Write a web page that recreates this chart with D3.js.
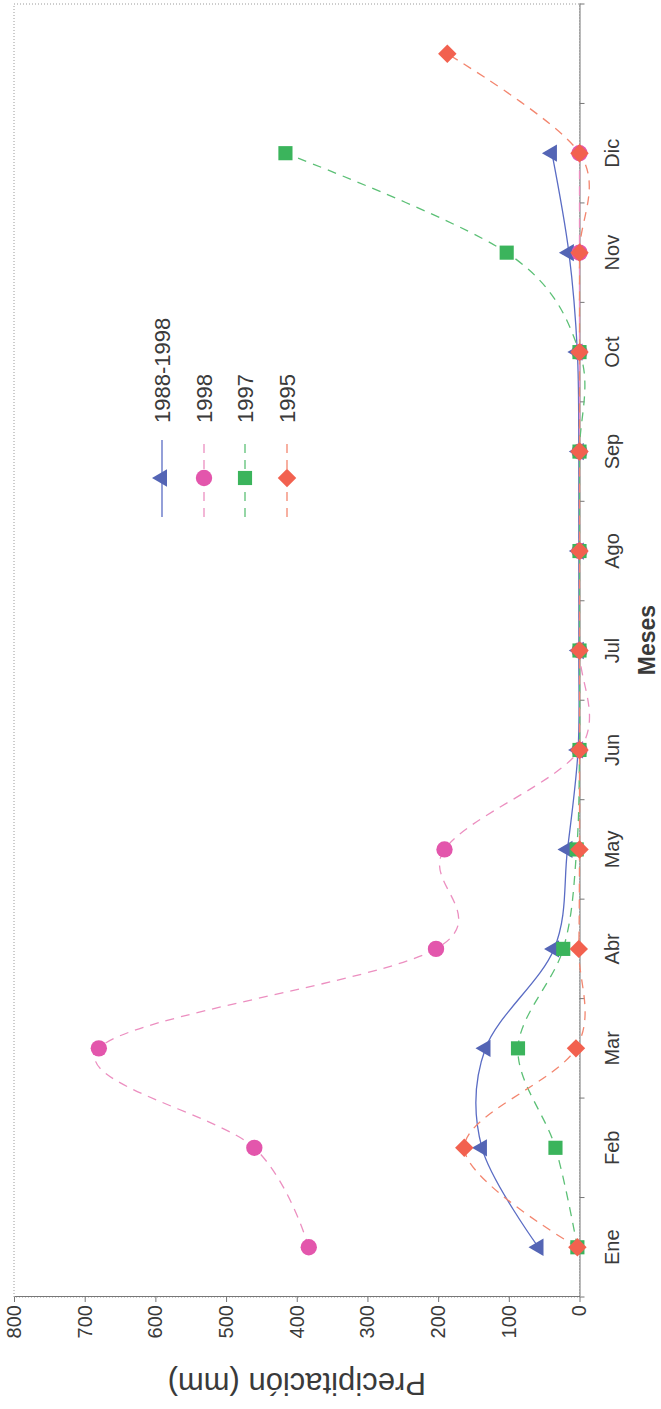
<!DOCTYPE html>
<html><head><meta charset="utf-8">
<script src="https://cdn.jsdelivr.net/npm/d3@7"></script>
<style>
body{margin:0;background:#fff}
svg{display:block}
text{font-family:"Liberation Sans",Arial,sans-serif;fill:#3a3a3a}
</style>
</head><body>
<svg id="c" width="661" height="1409"></svg>
<script>
// ---- data ----
const months = ["Ene","Feb","Mar","Abr","May","Jun","Jul","Ago","Sep","Oct","Nov","Dic",""];
const yTicks = [0,100,200,300,400,500,600,700,800];
const seriesNames = ["1988-1998","1998","1997","1995"];
const s8898 = [58,138,133,36,17,2,1,1,1,3,15,39];
const s1998 = [383,460,680,203,191,0,0,0,0,0,0,0];
const s1997 = [3,34,87,23,4,0,0,0,0,0,103,416];
const s1995 = [3,163,5,1,0,0,0,0,0,0,0,0,187];

// ---- styles ----
const styles = [
  {vals:s8898, mark:"#5465b5", line:"#5a6cc4", dash:null,  sym:"tri"},
  {vals:s1998, mark:"#e356ac", line:"#ec8fc0", dash:"9,7", sym:"circle"},
  {vals:s1997, mark:"#3bb45c", line:"#5cc076", dash:"9,7", sym:"square"},
  {vals:s1995, mark:"#f2614f", line:"#f3866f", dash:"9,7", sym:"diamond"}
];
function symPath(t){
  if(t==="tri") return d3.symbol().type(d3.symbolTriangle).size(130)();
  if(t==="circle") return d3.symbol().type(d3.symbolCircle).size(210)();
  if(t==="square") return d3.symbol().type(d3.symbolSquare).size(200)();
  return d3.symbol().type(d3.symbolSquare).size(170)();
}

const svg = d3.select("#c");
// chart is drawn in landscape and rotated 90deg counter-clockwise
const g = svg.append("g").attr("transform","translate(0,1409) rotate(-90)");

const x = d3.scaleBand().domain(d3.range(months.length)).range([112,1405]);
const y = d3.scaleLinear().domain([0,800]).range([579.5,14]);
const cx = i => x(i) + x.bandwidth()/2;

// dotted plot border
g.append("rect").attr("x",x.range()[0]).attr("y",y(800))
  .attr("width",x.range()[1]-x.range()[0]).attr("height",y(0)-y(800))
  .attr("fill","none").attr("stroke","#9a9a9a").attr("stroke-dasharray","1,2");

// value axis
const ya = g.append("g").attr("transform",`translate(${x.range()[0]},0)`)
  .call(d3.axisLeft(y).tickValues(yTicks).tickSize(5).tickPadding(3).tickSizeOuter(0));
ya.selectAll("path,line").attr("stroke","#777");
ya.selectAll("text").attr("font-size",20).attr("fill","#3a3a3a").attr("font-family","Liberation Sans, Arial, sans-serif");

// category axis
const xa = g.append("g").attr("transform",`translate(0,${y(0)})`)
  .call(d3.axisBottom(x).tickSize(0).tickPadding(25).tickFormat(i=>months[i]));
xa.selectAll("path").attr("stroke","#777");
xa.selectAll("text").attr("font-size",20).attr("fill","#3a3a3a").attr("font-family","Liberation Sans, Arial, sans-serif");
const bounds = d3.range(months.length).map(i=>x(i)).concat([x.range()[1]]);
g.append("g").selectAll("line").data(bounds).join("line")
  .attr("x1",d=>d).attr("x2",d=>d).attr("y1",y(0)).attr("y2",y(0)+5)
  .attr("stroke","#777");

// titles
g.append("text").attr("transform",`translate(36,${(y(0)+y(800))/2}) rotate(-90)`)
  .attr("text-anchor","middle").attr("font-size",31).text("Precipitación (mm)");
g.append("text").attr("x",769).attr("y",655)
  .attr("text-anchor","middle").attr("font-size",23).attr("font-weight","bold").text("Meses");

// lines
const curve = d3.curveCardinal.tension(0);
styles.forEach(s=>{
  const line = d3.line().x((d,i)=>cx(i)).y(d=>y(d)).curve(curve);
  g.append("path").attr("d",line(s.vals)).attr("fill","none")
    .attr("stroke",s.line).attr("stroke-width",1.3)
    .attr("stroke-dasharray",s.dash);
});
// markers
styles.forEach(s=>{
  g.append("g").selectAll("path").data(s.vals).join("path")
    .attr("d",symPath(s.sym)).attr("fill",s.mark)
    .attr("transform",(d,i)=>`translate(${cx(i)},${y(d)})` + (s.sym==="diamond"?" rotate(45)":""));
});

// legend
const legY = [162,204,245,287];
const leg = g.append("g");
styles.forEach((s,k)=>{
  const r = leg.append("g").attr("transform",`translate(0,${legY[k]})`);
  r.append("line").attr("x1",892).attr("x2",969).attr("y1",0).attr("y2",0)
    .attr("stroke",s.line).attr("stroke-width",1.3).attr("stroke-dasharray",s.dash);
  r.append("path").attr("d",symPath(s.sym)).attr("fill",s.mark)
    .attr("transform",`translate(931,0)`+(s.sym==="diamond"?" rotate(45)":""));
  r.append("text").attr("x",986).attr("y",0).attr("dy","0.35em")
    .attr("font-size",22).text(seriesNames[k]);
});
</script>
</body></html>
